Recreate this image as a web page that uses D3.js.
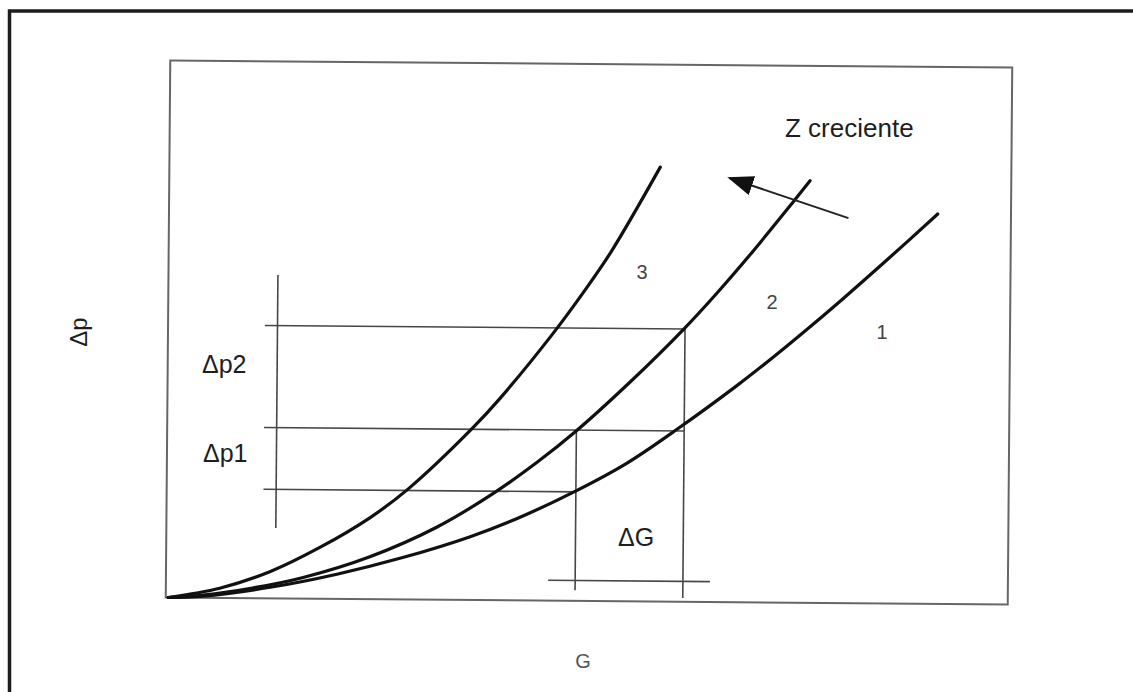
<!DOCTYPE html>
<html>
<head>
<meta charset="utf-8">
<script src="https://cdn.jsdelivr.net/npm/d3@7"></script>
<style>
  html, body { margin: 0; padding: 0; background: #fff; }
  svg { display: block; }
  text { font-family: "Liberation Sans", Arial, Helvetica, sans-serif; }
</style>
</head>
<body>
<svg id="chart" width="1133" height="692"></svg>
<script>
// Pressure drop Δp against flow G for three values of Z (1 < 2 < 3).
const gDomain = [0, 100];
const dpDomain = [0, 100];

const curveNames = ["1", "2", "3"];
const curve1 = [[0.3, 0], [4.4, 0.3], [12.4, 2.06], [20.3, 4.6], [28.1, 7.8], [36.1, 11.8],
                [42.0, 15.5], [48.5, 20.4], [54.6, 25.7], [60.8, 32.4], [67.5, 40.2],
                [71.6, 45.3], [75.8, 50.8], [80.0, 56.5], [85.4, 64.1], [91.3, 72.6]];
const curve2 = [[0.3, 0], [4.4, 0.5], [10.3, 1.9], [16.3, 3.94], [24.2, 7.9], [32.1, 13.5],
                [38.8, 19.9], [44.0, 25.8], [48.4, 31.4], [54.9, 40.8], [61.2, 50.7],
                [65.3, 57.8], [69.4, 65.4], [74.0, 74.4], [76.1, 78.6]];
const curve3 = [[0.3, 0], [6.4, 1.8], [12.4, 5.0], [18.3, 9.6], [24.2, 15.2], [28.7, 20.6],
                [36.2, 31.9], [39.5, 37.6], [45.6, 49.5], [49.4, 57.7], [52.6, 65.2],
                [58.3, 80.9]];

// Construction lines: two flows G1, G2 and the Δp levels they give.
const gLevels = [48.6, 61.4];          // G1, G2
const dpLevels = [20.3, 31.8, 50.8];   // curve1(G1), curve1(G2) ≈ curve2(G1), curve2(G2)
const bracketG = 13.0;                 // vertical reference line on the left
const bracketSpan = [13.1, 60.2];
const guideStartG = 11.5;
const gFootDp = [2.0, 0.7];            // lower ends of the G1 and G2 verticals
const dGLine = { dp: 3.8, from: 45.4, to: 64.6 };

// "Z creciente" arrow, from tail to head
const zArrow = [[80.7, 71.7], [66.5, 79.0]];

const svg = d3.select("#chart");
const W = 1133, H = 692;

svg.append("rect").attr("width", W).attr("height", H).attr("fill", "#fff");

// Outer frame (top and left edges)
svg.append("path")
  .attr("d", `M9.5,${H + 5} L9.5,11 L${W + 5},11`)
  .attr("fill", "none")
  .attr("stroke", "#1c1c1c")
  .attr("stroke-width", 3.5);

const box = { left: 168, right: 1010, top: 64, bottom: 601 };
const cx = (box.left + box.right) / 2, cy = (box.top + box.bottom) / 2;

const x = d3.scaleLinear().domain(gDomain).range([box.left, box.right]);
const y = d3.scaleLinear().domain(dpDomain).range([box.bottom, box.top]);

// The whole drawing sits slightly tilted, as on the printed page
const plot = svg.append("g")
  .attr("transform", `rotate(0.48, ${cx}, ${cy})`);

// Plot frame
plot.append("rect")
  .attr("x", box.left).attr("y", box.top)
  .attr("width", box.right - box.left).attr("height", box.bottom - box.top)
  .attr("fill", "none")
  .attr("stroke", "#666")
  .attr("stroke-width", 2);

// Construction lines
const guides = plot.append("g")
  .attr("stroke", "#474747")
  .attr("stroke-width", 1.6)
  .attr("fill", "none");

const seg = (x1, y1, x2, y2) => guides.append("line")
  .attr("x1", x(x1)).attr("y1", y(y1)).attr("x2", x(x2)).attr("y2", y(y2));

seg(bracketG, bracketSpan[0], bracketG, bracketSpan[1]);
seg(guideStartG, dpLevels[0], gLevels[0], dpLevels[0]);
seg(guideStartG, dpLevels[1], gLevels[1], dpLevels[1]);
seg(guideStartG, dpLevels[2], gLevels[1], dpLevels[2]);
seg(gLevels[0], dpLevels[1], gLevels[0], gFootDp[0]);
seg(gLevels[1], dpLevels[2], gLevels[1], gFootDp[1]);
seg(dGLine.from, dGLine.dp, dGLine.to, dGLine.dp);

// Characteristic curves
const line = d3.line()
  .x(d => x(d[0]))
  .y(d => y(d[1]))
  .curve(d3.curveCatmullRom.alpha(0.5));

plot.selectAll("path.curve")
  .data([curve1, curve2, curve3])
  .join("path")
  .attr("class", "curve")
  .attr("d", line)
  .attr("fill", "none")
  .attr("stroke", "#111")
  .attr("stroke-width", 3.2)
  .attr("stroke-linecap", "round");

// Arrow showing increasing Z
plot.append("defs").append("marker")
  .attr("id", "head")
  .attr("viewBox", "0 0 26 20")
  .attr("refX", 24).attr("refY", 10)
  .attr("markerWidth", 26).attr("markerHeight", 20)
  .attr("markerUnits", "userSpaceOnUse")
  .attr("orient", "auto")
  .append("path")
  .attr("d", "M0,0 L26,10 L0,20 Z")
  .attr("fill", "#111");

plot.append("line")
  .attr("x1", x(zArrow[0][0])).attr("y1", y(zArrow[0][1]))
  .attr("x2", x(zArrow[1][0])).attr("y2", y(zArrow[1][1]))
  .attr("stroke", "#222")
  .attr("stroke-width", 2)
  .attr("marker-end", "url(#head)");

// Labels
const label = (txt, px, py, size, opts = {}) => svg.append("text")
  .attr("x", px).attr("y", py)
  .attr("font-size", size)
  .attr("fill", opts.fill || "#1e1e1e")
  .attr("text-anchor", opts.anchor || "start")
  .attr("transform", opts.rotate ? `rotate(${opts.rotate}, ${px}, ${py})` : null)
  .text(txt);

label("Z creciente", 785, 137, 26);
label("\u0394p2", 202, 373, 25);
label("\u0394p1", 203, 462, 25);
label("\u0394G", 618, 546, 25);
label("\u0394p", 87, 332, 24, { anchor: "middle", rotate: -90 });
label("G", 583, 668, 20, { anchor: "middle", fill: "#555" });

const curveLabelPos = [[882, 339], [772, 309], [642, 279]];
curveNames.forEach((n, i) => {
  label(n, curveLabelPos[i][0], curveLabelPos[i][1], 20, { anchor: "middle", fill: "#444" });
});
</script>
</body>
</html>
